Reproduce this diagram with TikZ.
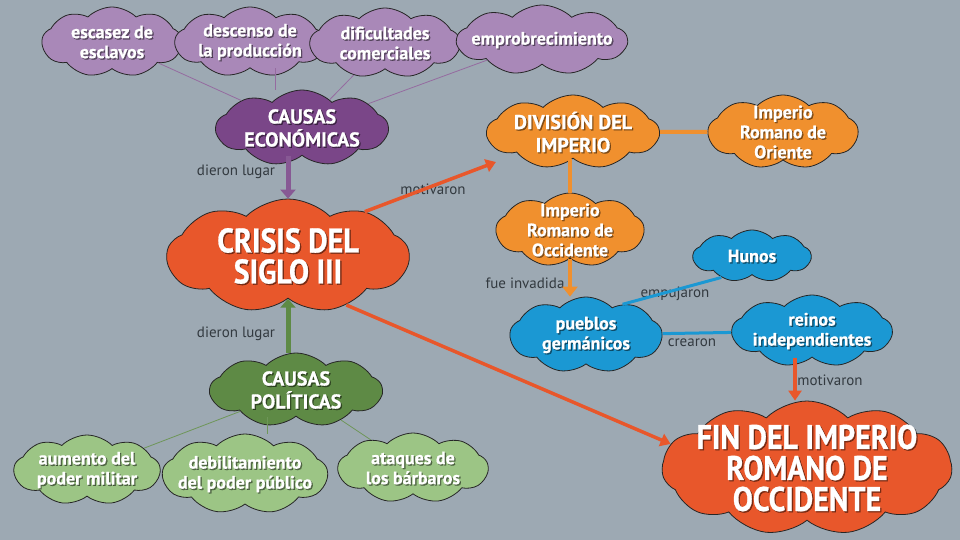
\documentclass[tikz,border=0pt]{standalone}
\usepackage{fontspec}
\setmainfont{PT Sans}[BoldFeatures={FakeBold=0.8}]
\newfontfamily\condfont{PT Sans}[FakeStretch=0.88, BoldFeatures={FakeBold=0.8}]
\usetikzlibrary{shapes.symbols,arrows.meta,calc}
\definecolor{bg}{HTML}{9DA9B3}
\definecolor{plight}{HTML}{A988B8}
\definecolor{pdark}{HTML}{7A4688}
\definecolor{orng}{HTML}{F0902E}
\definecolor{rorng}{HTML}{E8572B}
\definecolor{blu}{HTML}{1B98D3}
\definecolor{gdark}{HTML}{5E8A45}
\definecolor{glight}{HTML}{9CC585}
\definecolor{lbl}{HTML}{333A40}
\tikzset{
  cl/.style={cloud, cloud puffs=9, cloud puff arc=90, cloud ignores aspect, draw=black!85, line width=0.8pt, inner sep=0pt},
  shd/.style={text=black, text opacity=0.45, xshift=1.3pt, yshift=-1.3pt},
  fsmall/.style={text=white, align=center, inner sep=0pt, font=\bfseries\fontsize{18}{20}\selectfont},
  fmid/.style={text=white, align=center, inner sep=0pt, font=\bfseries\fontsize{20}{23}\selectfont},
  fbig/.style={text=white, align=center, inner sep=0pt, font=\condfont\bfseries\fontsize{34}{31}\selectfont},
  small/.style={label={[fsmall,shd]center:{#1}}, label={[fsmall]center:{#1}}},
  mid/.style={label={[fmid,shd]center:{#1}}, label={[fmid]center:{#1}}},
  big/.style={label={[fbig,shd]center:{#1}}, label={[fbig]center:{#1}}},
  lab/.style={text=lbl, font=\fontsize{15}{16}\selectfont, inner sep=0pt},
  thinp/.style={draw=pdark!80, line width=0.8pt},
  thing/.style={draw=gdark!90, line width=0.8pt},
  fat/.style={line width=5pt, -{Triangle[width=15pt,length=9pt]}},
  red/.style={draw=rorng, line width=3.5pt, -{Triangle[width=13pt,length=10pt]}},
}
\begin{document}
\begin{tikzpicture}[x=1pt,y=-1pt]
\fill[bg] (0,0) rectangle (960,540);
\useasboundingbox (0,0) rectangle (960,540);
% purple
\node[cl, fill=plight, minimum width=140, minimum height=70, small={escasez de\\esclavos}] (esc) at (112,42) {};
\node[cl, fill=plight, minimum width=150, minimum height=70, small={descenso de\\la producción}] (des) at (250,42) {};
\node[cl, fill=plight, minimum width=150, minimum height=70, small={dificultades\\comerciales}] (dif) at (385,43) {};
\node[cl, fill=plight, minimum width=170, minimum height=70, small={emprobrecimiento}] (emp) at (542,40) {};
\node[cl, fill=pdark, minimum width=172, minimum height=76, mid={CAUSAS\\ECONÓMICAS}] (eco) at (302,128) {};
% orange
\node[cl, fill=orng, minimum width=172, minimum height=74, mid={DIVISIÓN DEL\\IMPERIO}] (div) at (573,132) {};
\node[cl, fill=orng, minimum width=150, minimum height=74, small={Imperio\\Romano de\\Oriente}] (ori) at (783,132) {};
\node[cl, fill=orng, minimum width=148, minimum height=74, small={Imperio\\Romano de\\Occidente}] (occ) at (570,230) {};
% crisis
\node[cl, fill=rorng, minimum width=242, minimum height=114, big={CRISIS DEL\\SIGLO III}] (cri) at (288,256) {};
% blue
\node[cl, fill=blu, minimum width=118, minimum height=52, small={Hunos}] (hun) at (752,256) {};
\node[cl, fill=blu, minimum width=152, minimum height=76, small={pueblos\\germánicos}] (pue) at (586,335) {};
\node[cl, fill=blu, minimum width=160, minimum height=72, small={reinos\\independientes}] (rei) at (812,331) {};
% green
\node[cl, fill=gdark, minimum width=172, minimum height=74, mid={CAUSAS\\POLÍTICAS}] (pol) at (296,390) {};
\node[cl, fill=glight, minimum width=146, minimum height=70, small={aumento del\\poder militar}] (aum) at (87,470) {};
\node[cl, fill=glight, minimum width=165, minimum height=80, small={debilitamiento\\del poder público}] (deb) at (245,474) {};
\node[cl, fill=glight, minimum width=150, minimum height=70, small={ataques de\\los bárbaros}] (ata) at (413,468) {};
% fin
\node[cl, cloud puffs=11, fill=rorng, minimum width=290, minimum height=134, big={FIN DEL IMPERIO\\ROMANO DE\\OCCIDENTE}] (fin) at (807,468) {};
% labels
\node[lab] (l1) at (236,172) {dieron lugar};
\node[lab] (l2) at (433,189) {motivaron};
\node[lab] (l3) at (525,283) {fue invadida};
\node[lab] (l4) at (675,294) {empujaron};
\node[lab] (l5) at (692,343) {crearon};
\node[lab] (l6) at (830,380) {motivaron};
\node[lab] (l7) at (236,334) {dieron lugar};
% connectors
\draw[thinp] (esc) -- (eco);
\draw[thinp] (des.south -| 275,0) -- (eco.north -| 275,0);
\draw[thinp] (dif) -- (eco);
\draw[thinp] (emp) -- (eco);
\draw[thing] (pol) -- (aum);
\draw[thing] (pol.south -| 267,0) -- (deb.north -| 267,0);
\draw[thing] (pol) -- (ata);
\draw[fat, draw=pdark!90, color=pdark!90] (eco.south -| cri.north) -- (cri.north);
\draw[fat, draw=gdark, color=gdark] (pol.north -| cri.south) -- (cri.south);
\draw[red] (cri.30) -- ($(div.west)+(10,30)$);
\draw[red] (cri.-40) -- (fin.170);
\draw[red] (rei.south -| 795,0) -- (fin.north -| 795,0);
\draw[draw=orng, line width=4pt] (div) -- (ori);
\draw[draw=orng, line width=4pt] (div.south -| occ.north) -- (occ.north);
\draw[draw=orng, line width=4pt, -{Triangle[width=15pt,length=10pt]}] (occ.south) -- (occ.south |- pue.north);
\draw[draw=blu, line width=3pt] (pue.40) -- (hun.215);
\draw[draw=blu, line width=3pt] (pue) -- (rei);
\end{tikzpicture}
\end{document}
